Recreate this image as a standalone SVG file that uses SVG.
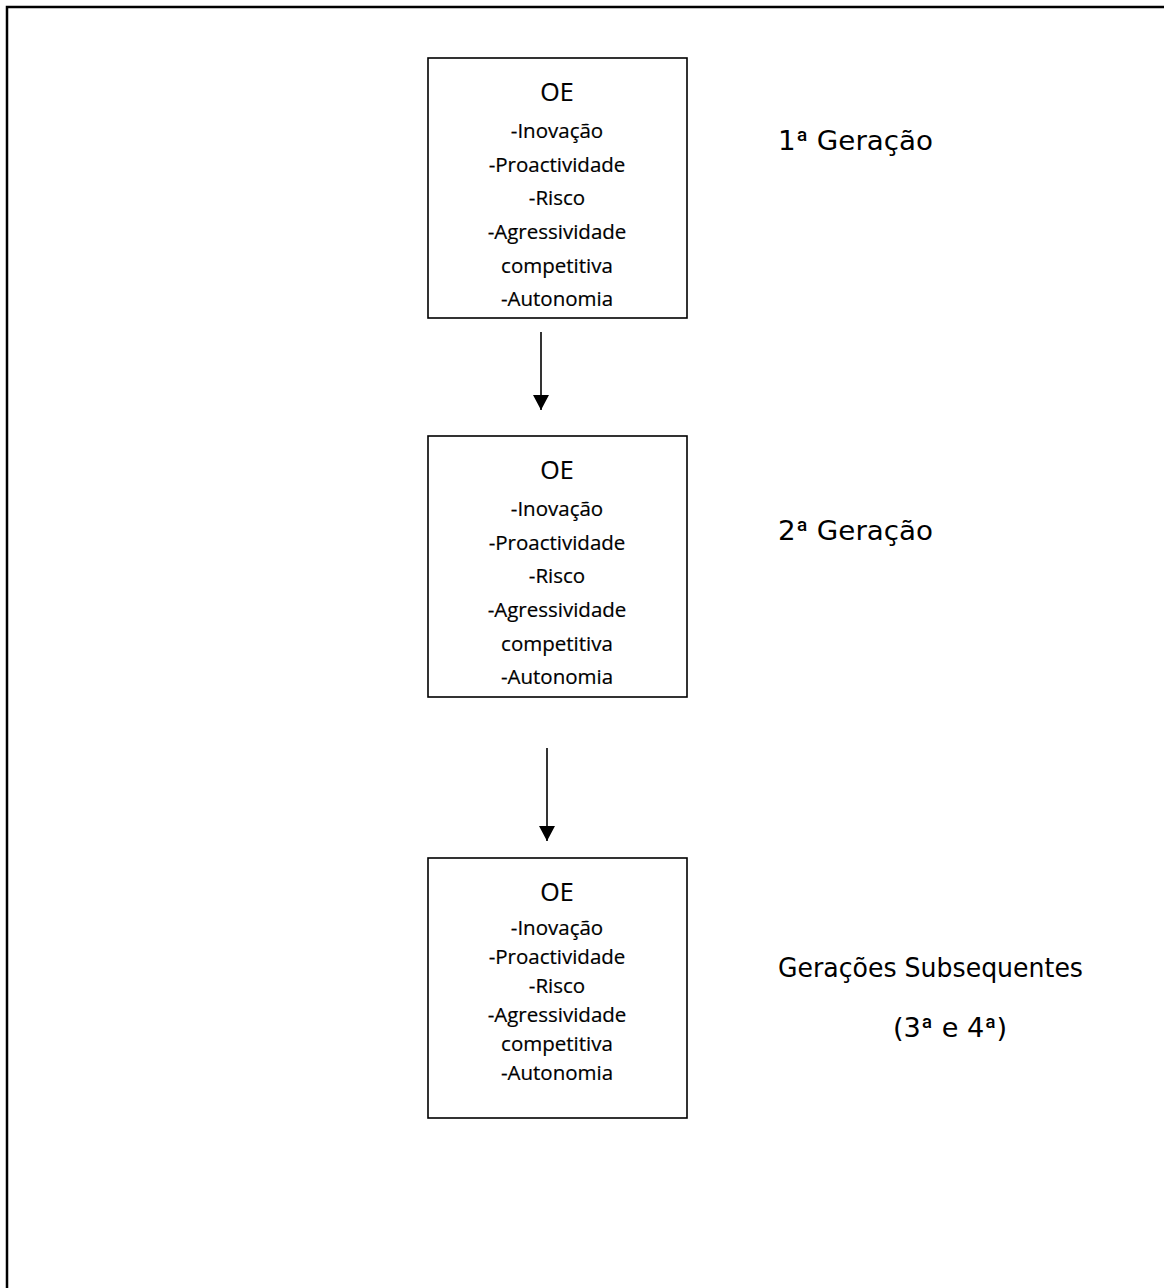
<svg xmlns="http://www.w3.org/2000/svg" width="1164" height="1288" viewBox="0 0 1164 1288">
<style>
.box{fill:#fff;stroke:#000;stroke-width:1.6}
.t{font-family:"Open Sans","Liberation Sans",sans-serif;font-size:20.5px;fill:#000;text-anchor:middle;stroke:#000;stroke-width:0.2}
.h{font-size:25px}
.lbl{font-family:"DejaVu Sans","Liberation Sans",sans-serif;font-size:27px;fill:#000}
.o{font-family:Roboto,"Noto Sans",sans-serif}
.conn{stroke:#000;stroke-width:1.6;fill:none}
</style>
<defs>
<marker id="ah" markerWidth="16" markerHeight="16" refX="15" refY="8" orient="auto" markerUnits="userSpaceOnUse">
<path d="M0,0 L15,8 L0,16 Z" fill="#000"/>
</marker>
</defs>
<rect width="1164" height="1288" fill="#fff"/>
<path d="M7,1288 V7 H1164" fill="none" stroke="#000" stroke-width="2.5"/>
<g id="connectors">
<line class="conn" x1="541" y1="332" x2="541" y2="410" marker-end="url(#ah)"/>
<line class="conn" x1="547" y1="748" x2="547" y2="841" marker-end="url(#ah)"/>
</g>
<g id="node1">
<rect class="box" x="428" y="58" width="259" height="260"/>
<text class="t h" x="557" y="101">OE</text>
<text class="t" x="557" y="138">-Inovação</text>
<text class="t" x="557" y="172">-Proactividade</text>
<text class="t" x="557" y="205">-Risco</text>
<text class="t" x="557" y="239">-Agressividade</text>
<text class="t" x="557" y="273">competitiva</text>
<text class="t" x="557" y="306">-Autonomia</text>
</g>
<g id="node2">
<rect class="box" x="428" y="436" width="259" height="261"/>
<text class="t h" x="557" y="479">OE</text>
<text class="t" x="557" y="516">-Inovação</text>
<text class="t" x="557" y="550">-Proactividade</text>
<text class="t" x="557" y="583">-Risco</text>
<text class="t" x="557" y="617">-Agressividade</text>
<text class="t" x="557" y="651">competitiva</text>
<text class="t" x="557" y="684">-Autonomia</text>
</g>
<g id="node3">
<rect class="box" x="428" y="858" width="259" height="260"/>
<text class="t h" x="557" y="901">OE</text>
<text class="t" x="557" y="935">-Inovação</text>
<text class="t" x="557" y="964">-Proactividade</text>
<text class="t" x="557" y="993">-Risco</text>
<text class="t" x="557" y="1022">-Agressividade</text>
<text class="t" x="557" y="1051">competitiva</text>
<text class="t" x="557" y="1080">-Autonomia</text>
</g>
<g id="label1"><text class="lbl" x="778" y="150" textLength="155" lengthAdjust="spacingAndGlyphs">1<tspan class="o">ª</tspan> Geração</text></g>
<g id="label2"><text class="lbl" x="778" y="540" textLength="155" lengthAdjust="spacingAndGlyphs">2<tspan class="o">ª</tspan> Geração</text></g>
<g id="label3">
<text class="lbl" x="778" y="977" textLength="305" lengthAdjust="spacingAndGlyphs">Gerações Subsequentes</text>
<text class="lbl" x="893" y="1037" textLength="114" lengthAdjust="spacingAndGlyphs">(3<tspan class="o">ª</tspan> e 4<tspan class="o">ª</tspan>)</text>
</g>
</svg>
